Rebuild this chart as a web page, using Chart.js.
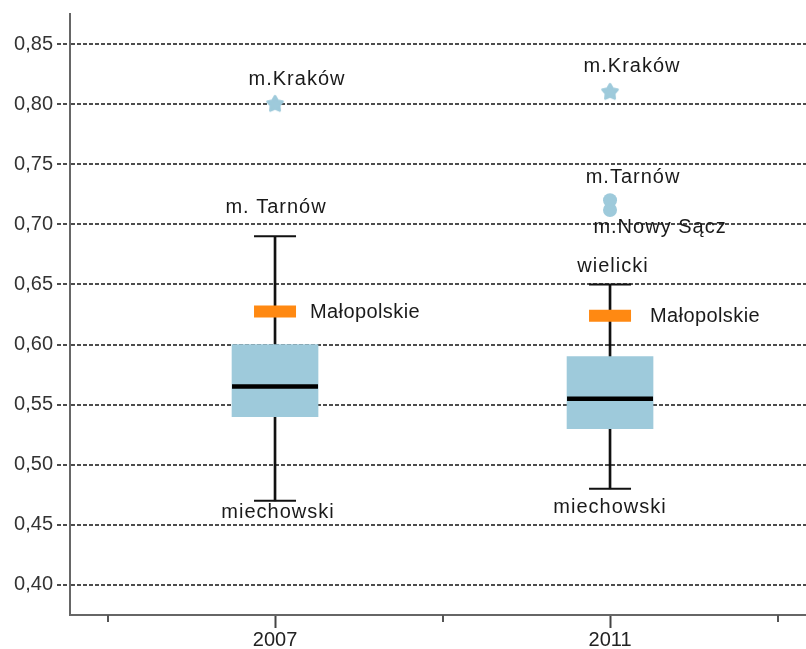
<!DOCTYPE html>
<html>
<head>
<meta charset="utf-8">
<script src="https://cdn.jsdelivr.net/npm/chart.js@4.4.1/dist/chart.umd.min.js"></script>
<style>
  html, body { margin: 0; padding: 0; background: #fff; }
  #wrap { width: 806px; height: 649px; }
</style>
</head>
<body>
<div id="wrap"><canvas id="c" width="806" height="649"></canvas></div>
<script>
// data
const years = ['2007', '2011'];
const yearPos = [1, 2];
const whiskerMin = [0.47, 0.48];
const boxQ1 = [0.54, 0.53];
const boxMedian = [0.565, 0.555];
const boxQ3 = [0.60, 0.59];
const whiskerMax = [0.69, 0.65];
const regionValue = [0.6275, 0.624];
const regionName = 'Małopolskie';
const extremeValue = [0.80, 0.81];
const extremeName = ['m.Kraków', 'm.Kraków'];
const outlierPos = [2, 2];
const outlierValue = [0.72, 0.712];
const outlierName = ['m.Tarnów', 'm.Nowy Sącz'];
const minName = ['miechowski', 'miechowski'];
const maxName = ['m. Tarnów', 'wielicki'];
const yTicks = [0.40, 0.45, 0.50, 0.55, 0.60, 0.65, 0.70, 0.75, 0.80, 0.85];
const xTicks = [0.5, 1, 1.5, 2, 2.5];

const FONT = "'Liberation Sans', Arial, sans-serif";
const BLUE = 'rgb(158, 202, 219)';
const ORANGE = 'rgb(255, 137, 18)';
Chart.defaults.font.family = FONT;

// label offsets in px from the anchored value, plus letter spacing
const LAYOUT = {
  extreme: [[22, -25], [22, -26]],
  max: [[1, -29], [3, -18]],
  min: [[3, 12], [0, 19]],
  region: [[35, 1], [40, 1]],
  outlier: [[23, -23], [50, 18]]
};

const annotations = [];
yearPos.forEach((x, i) => {
  annotations.push({ text: extremeName[i], x, y: extremeValue[i], off: LAYOUT.extreme[i], align: 'center', sp: '1px' });
  annotations.push({ text: maxName[i], x, y: whiskerMax[i], off: LAYOUT.max[i], align: 'center', sp: '1px' });
  annotations.push({ text: minName[i], x, y: whiskerMin[i], off: LAYOUT.min[i], align: 'center', sp: '1px' });
  annotations.push({ text: regionName, x, y: regionValue[i], off: LAYOUT.region[i], align: 'left', sp: '0.4px' });
});
outlierPos.forEach((x, i) => {
  annotations.push({ text: outlierName[i], x, y: outlierValue[i], off: LAYOUT.outlier[i], align: 'center', sp: '1px' });
});

// five-point star marker
function makeStar(r, color) {
  const c = document.createElement('canvas');
  const s = Math.ceil(r * 2 + 4);
  c.width = s; c.height = s;
  const g = c.getContext('2d');
  g.translate(s / 2, s / 2);
  g.beginPath();
  for (let i = 0; i < 10; i++) {
    const rr = i % 2 ? r * 0.55 : r;
    const a = -Math.PI / 2 + i * Math.PI / 5;
    g.lineTo(rr * Math.cos(a), rr * Math.sin(a));
  }
  g.closePath();
  g.fillStyle = color; g.strokeStyle = color;
  g.lineWidth = 2.5; g.lineJoin = 'round';
  g.fill(); g.stroke();
  return c;
}

const labelPlugin = {
  id: 'labels',
  afterDatasetsDraw(chart) {
    const { ctx, scales: { x, y } } = chart;
    ctx.save();
    ctx.font = '20px ' + FONT;
    ctx.fillStyle = '#1a1a1a';
    ctx.textBaseline = 'middle';
    annotations.forEach(a => {
      if ('letterSpacing' in ctx) ctx.letterSpacing = a.sp;
      ctx.textAlign = a.align;
      ctx.fillText(a.text, x.getPixelForValue(a.x) + a.off[0], y.getPixelForValue(a.y) + a.off[1]);
    });
    ctx.restore();
  },
  afterDraw(chart) {
    // short minor ticks on the x axis
    const { ctx, scales: { x } } = chart;
    ctx.save();
    ctx.strokeStyle = '#555';
    ctx.lineWidth = 2;
    xTicks.filter(v => !Number.isInteger(v)).forEach(v => {
      const px = Math.round(x.getPixelForValue(v));
      ctx.beginPath();
      ctx.moveTo(px, x.top);
      ctx.lineTo(px, x.top + 7);
      ctx.stroke();
    });
    ctx.restore();
  }
};

const pts = (xs, ys) => xs.map((x, i) => ({ x, y: ys[i] }));

new Chart(document.getElementById('c'), {
  type: 'bar',
  data: {
    datasets: [
      {
        label: 'whisker',
        data: yearPos.map((x, i) => ({ x, y: [whiskerMin[i], whiskerMax[i]] })),
        backgroundColor: '#111',
        barThickness: 2,
        grouped: false,
        order: 6
      },
      {
        label: 'box',
        data: yearPos.map((x, i) => ({ x, y: [boxQ1[i], boxQ3[i]] })),
        backgroundColor: BLUE,
        barThickness: 86,
        grouped: false,
        order: 5
      },
      {
        type: 'scatter',
        label: 'median',
        data: pts(yearPos, boxMedian),
        pointStyle: 'line',
        pointRadius: 43,
        pointBorderWidth: 4.5,
        pointBorderColor: '#000',
        order: 4
      },
      {
        type: 'scatter',
        label: 'caps',
        data: pts(yearPos, whiskerMin).concat(pts(yearPos, whiskerMax)),
        pointStyle: 'line',
        pointRadius: 21,
        pointBorderWidth: 2,
        pointBorderColor: '#111',
        order: 4
      },
      {
        type: 'scatter',
        label: regionName,
        data: pts(yearPos, regionValue),
        pointStyle: 'line',
        pointRadius: 21,
        pointBorderWidth: 12,
        pointBorderColor: ORANGE,
        order: 3
      },
      {
        type: 'scatter',
        label: 'extreme',
        data: pts(yearPos, extremeValue),
        pointStyle: makeStar(8, BLUE),
        order: 2
      },
      {
        type: 'scatter',
        label: 'outliers',
        data: pts(outlierPos, outlierValue),
        pointStyle: 'circle',
        pointRadius: 7,
        pointBorderWidth: 0,
        pointBackgroundColor: BLUE,
        order: 1
      }
    ]
  },
  options: {
    responsive: false,
    animation: false,
    events: [],
    layout: { autoPadding: false, padding: { top: 14, right: 0, left: 0, bottom: 0 } },
    plugins: { legend: { display: false }, tooltip: { enabled: false } },
    scales: {
      x: {
        type: 'linear',
        min: 0.388,
        max: 2.585,
        offset: false,
        grid: {
          offset: false,
          drawOnChartArea: false,
          drawTicks: true,
          tickLength: 13,
          tickWidth: 2,
          tickColor: ctx => Number.isInteger(ctx.tick && ctx.tick.value) ? '#444' : 'rgba(0,0,0,0)'
        },
        border: { color: '#666', width: 2 },
        afterBuildTicks: s => { s.ticks = xTicks.map(v => ({ value: v })); },
        afterFit: s => { s.height = 34; s.paddingLeft = 0; s.paddingRight = 0; },
        ticks: {
          autoSkip: false,
          maxRotation: 0,
          padding: 0,
          color: '#222',
          font: { size: 20 },
          callback: v => { const i = yearPos.indexOf(v); return i >= 0 ? years[i] : ''; }
        }
      },
      y: {
        min: 0.375,
        max: 0.875,
        grid: {
          color: '#4d4d4d',
          lineWidth: 2,
          tickLength: 13,
          tickColor: '#4d4d4d',
          tickWidth: 2,
          tickBorderDash: [4, 2]
        },
        border: { color: '#666', width: 2, dash: [4, 2] },
        afterBuildTicks: s => { s.ticks = yTicks.map(v => ({ value: v })); },
        afterFit: s => { s.width = 70; s.paddingTop = 0; s.paddingBottom = 0; },
        ticks: {
          padding: 4,
          color: '#333',
          font: { size: 20 },
          callback: v => v.toFixed(2).replace('.', ',')
        }
      }
    }
  },
  plugins: [labelPlugin]
});
</script>
</body>
</html>
